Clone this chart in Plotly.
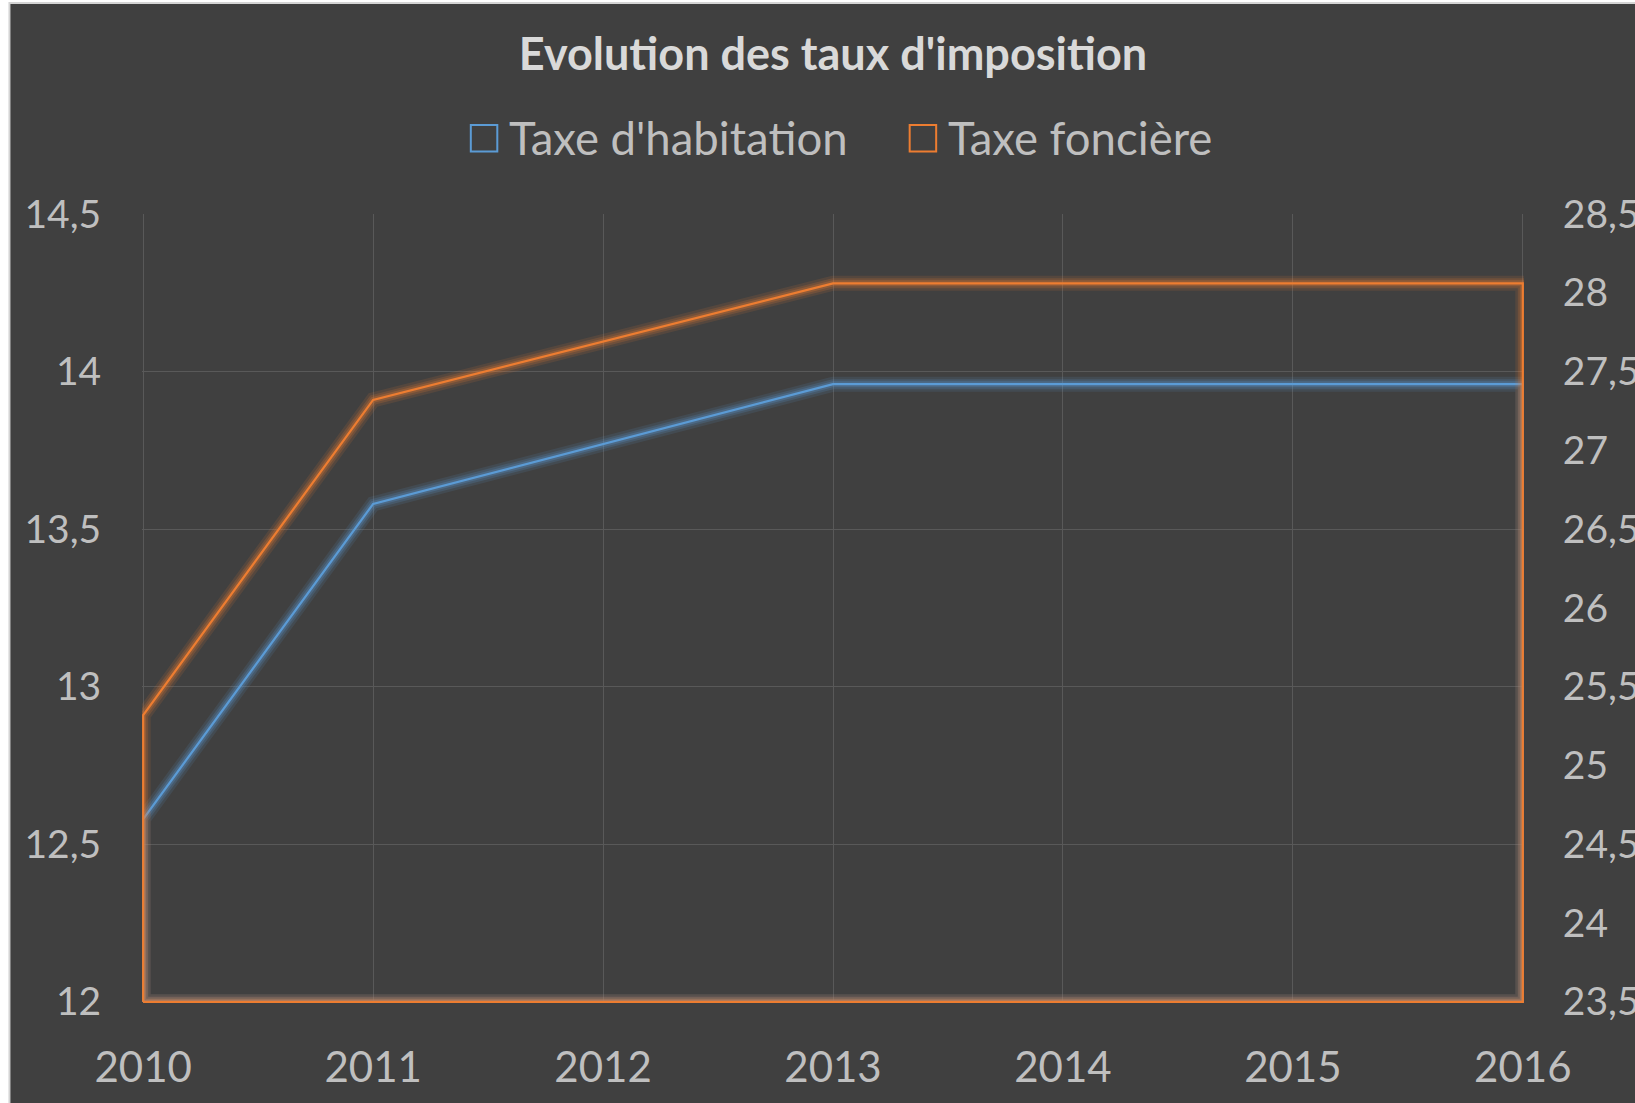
import plotly.graph_objects as go

# ---- data ----
years = [2010, 2011, 2012, 2013, 2014, 2015, 2016]
taxe_habitation = [12.58, 13.58, 13.77, 13.96, 13.96, 13.96, 13.96]
taxe_fonciere = [25.32, 27.32, 27.69, 28.06, 28.06, 28.06, 28.06]
series_names = ["Taxe d'habitation", "Taxe foncière"]
left_ticks = [12, 12.5, 13, 13.5, 14, 14.5]
left_ticklabels = ["12", "12,5", "13", "13,5", "14", "14,5"]
right_ticks = [23.5, 24, 24.5, 25, 25.5, 26, 26.5, 27, 27.5, 28, 28.5]
right_ticklabels = ["23,5", "24", "24,5", "25", "25,5", "26", "26,5", "27", "27,5", "28", "28,5"]
title_text = "Evolution des taux d'imposition"

# ---- layout constants ----
W, H = 1635, 1103
ML, MR, MT, MB = 141.6, 111, 214, 100
PW, PH = W - ML - MR, H - MT - MB

BLUE = "#5b9bd5"
ORANGE = "#ed7d31"
BG = "#404040"
GRID = "#595959"
TXT = "#bfbfbf"
FONT = "Lato"

def px_x(p):
    return (p - ML) / PW

def px_y(p):
    return 1 - (p - MT) / PH

left_min, left_max = left_ticks[0], left_ticks[-1]
right_min, right_max = right_ticks[0], right_ticks[-1]
pad_px = 1.2
lpad = (left_max - left_min) / PH * pad_px
rpad = (right_max - right_min) / PH * pad_px
xpad = (years[-1] - years[0]) / PW * pad_px


def outline(vals, base):
    xs = [years[0]] + years + [years[-1], years[0]]
    ys = [base] + vals + [base, base]
    return xs, ys


fig = go.Figure()

for vals, base, color, axis, name in [
    (taxe_habitation, left_min, BLUE, "y", series_names[0]),
    (taxe_fonciere, right_min, ORANGE, "y2", series_names[1]),
]:
    xs, ys = outline(vals, base)
    # soft glow
    for w, op in [(15, 0.12), (10, 0.18), (6, 0.25)]:
        fig.add_trace(go.Scatter(x=xs, y=ys, mode="lines", yaxis=axis,
                                 line=dict(color=color, width=w), opacity=op,
                                 hoverinfo="skip", showlegend=False))
    fig.add_trace(go.Scatter(x=xs, y=ys, mode="lines", yaxis=axis, name=name,
                             line=dict(color=color, width=2.2),
                             showlegend=False))

# outer frame
fig.add_shape(type="rect", xref="paper", yref="paper",
              x0=px_x(9), x1=px_x(W + 10), y0=px_y(H + 10), y1=px_y(3),
              fillcolor=BG, line=dict(color="#d4d4d4", width=2), layer="below")

# legend (squares + text)
legend_items = [
    (series_names[0], BLUE, 470.5, 507),
    (series_names[1], ORANGE, 909.5, 946),
]
for name, color, sx, tx in legend_items:
    fig.add_shape(type="rect", xref="paper", yref="paper",
                  x0=px_x(sx), x1=px_x(sx + 26.5), y0=px_y(151.5), y1=px_y(125),
                  fillcolor="rgba(0,0,0,0)", line=dict(color=color, width=2))
    fig.add_annotation(text=name, xref="paper", yref="paper",
                       x=px_x(tx), y=px_y(138), xanchor="left", yanchor="middle",
                       showarrow=False, font=dict(family=FONT, size=45.5, color=TXT))

fig.update_layout(
    width=W, height=H,
    margin=dict(l=ML, r=MR, t=MT, b=MB, autoexpand=False),
    paper_bgcolor="#ffffff",
    plot_bgcolor=BG,
    showlegend=False,
    title=dict(text="<b>" + title_text + "</b>", x=0.5, xref="paper", xanchor="center",
               y=1 - 54 / H, yref="container", yanchor="middle",
               font=dict(family=FONT, size=45, color="#d9d9d9")),
    xaxis=dict(range=[years[0] - xpad, years[-1] + xpad], tickvals=years,
               ticktext=[str(y) for y in years],
               showgrid=True, gridcolor=GRID, gridwidth=1.3,
               zeroline=False, showline=False,
               ticks="outside", ticklen=28, tickcolor="rgba(0,0,0,0)",
               tickfont=dict(family=FONT, size=42, color=TXT), automargin=False),
    yaxis=dict(range=[left_min - lpad, left_max], tickvals=left_ticks,
               ticktext=left_ticklabels,
               showgrid=True, gridcolor=GRID, gridwidth=1.3,
               zeroline=False, showline=False,
               ticks="outside", ticklen=32, tickcolor="rgba(0,0,0,0)",
               tickfont=dict(family=FONT, size=39, color=TXT), automargin=False),
    yaxis2=dict(range=[right_min - rpad, right_max], tickvals=right_ticks,
                ticktext=right_ticklabels, overlaying="y", side="right",
                showgrid=False, zeroline=False, showline=False,
                ticks="outside", ticklen=30, tickcolor="rgba(0,0,0,0)",
                tickfont=dict(family=FONT, size=39, color=TXT), automargin=False),
)

fig.write_html("out.html", config={"displayModeBar": False},
               post_script="document.body.style.margin='0';")
